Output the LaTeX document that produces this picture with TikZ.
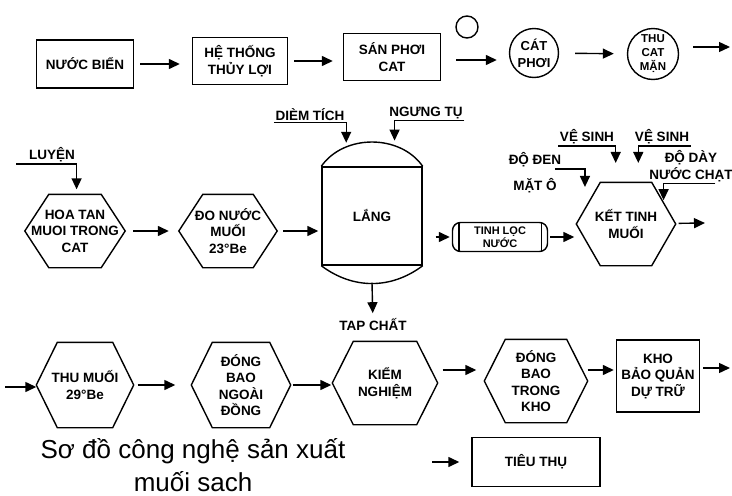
\documentclass[tikz,border=0pt]{standalone}
\usepackage{fontspec}
\setmainfont{Liberation Sans}
\usetikzlibrary{arrows.meta}

\tikzset{
  chu/.style={font=\fontsize{13.5}{16.5}\selectfont\bfseries, align=center},
  hopbox/.style={chu, draw, rectangle, inner sep=1pt},
  luc/.style={chu, rectangle, inner sep=0pt},
  tron/.style={chu, draw, circle, inner sep=0pt},
  ongloc/.style={chu, draw, rectangle, rounded corners=8pt, inner sep=0pt, font=\fontsize{11}{13}\selectfont\bfseries},
  ghichu/.style={chu, inner sep=1pt},
  flow/.style={-{Triangle[length=11pt,width=10pt]}, shorten <=6pt, shorten >=10pt},
  feed/.style={-{Triangle[length=11pt,width=10pt]}},
}
% hexagon outline around a named node
\newcommand\veluc[2]{%
  \draw (#1.west) -- ([xshift=#2]#1.north west) -- ([xshift=-#2]#1.north east)
    -- (#1.east) -- ([xshift=-#2]#1.south east) -- ([xshift=#2]#1.south west) -- cycle;}

\begin{document}
\begin{tikzpicture}[x=1pt,y=-1pt,line width=1.4pt]
\useasboundingbox (0,0) rectangle (732,496);

% hang 1
\node[hopbox, minimum width=97, minimum height=48] (bien) at (85,64) {NƯỚC BIỂN};
\node[hopbox, minimum width=95, minimum height=47] (heth) at (240,61) {HỆ THỐNG\\THỦY LỢI};
\node[hopbox, minimum width=97, minimum height=47] (san) at (392,57) {SÁN PHƠI\\CAT};
\node[tron, minimum size=22] (vong) at (467,27) {};
\node[tron, minimum size=49, font=\fontsize{13}{17}\selectfont\bfseries] (catphoi) at (534,53) {CÁT\\PHƠI};
\node[tron, minimum size=51, font=\fontsize{11.5}{14}\selectfont\bfseries] (thucat) at (653,54) {THU\\CAT\\MẶN};
\coordinate (ra1) at (730,47);

\draw[flow, shorten >=12pt] (bien) -- (bien -| heth.west);
\draw[flow] (heth) -- (heth -| san.west);
\draw[flow, shorten <=15pt, shorten >=12pt] ([yshift=-3pt]san.east) -- ([yshift=-3pt]san.east -| catphoi.west);
\draw[flow, shorten <=16pt, shorten >=13pt] (catphoi) -- (thucat);
\draw[flow, shorten <=14pt, shorten >=0pt] ([yshift=7pt]thucat.east) -- (ra1);

% hang 2
\node[ghichu] (luyen) at (52,155) {LUYỆN};
\node[luc, minimum width=99, minimum height=72] (hoatan) at (75,231) {HOA TAN\\MUOI TRONG\\CAT};
\node[luc, minimum width=97, minimum height=72] (donuoc) at (228,231) {ĐO NƯỚC\\MUỐI\\23°Be};
\node[hopbox, minimum width=100, minimum height=98] (lang) at (372,216) {LẮNG};
\node[ghichu] (diem) at (310,115) {DIÈM TÍCH};
\node[ghichu] (ngung) at (426,113) {NGƯNG TỤ};
\node[ghichu] (tap) at (373,325) {TAP CHẤT};
\node[ongloc, minimum width=95, minimum height=29] (tinh) at (500,237) {TINH LỌC\\NƯỚC};
\node[luc, minimum width=98, minimum height=82] (ket) at (626,224) {KẾT TINH\\MUỐI};
\node[ghichu] (vs1) at (587,137) {VỆ SINH};
\node[ghichu] (vs2) at (662,137) {VỆ SINH};
\node[ghichu] (doden) at (535,160) {ĐỘ ĐEN};
\node[ghichu] (mato) at (535,186) {MẶT Ô};
\node[ghichu] (doday) at (691,166) {ĐỘ DÀY\\NƯỚC CHẠT};
\coordinate (ra2) at (705,223);

\veluc{hoatan}{24pt}
\veluc{donuoc}{24pt}
\veluc{ket}{24pt}
\draw (lang.north west) to[bend left=55] (lang.north east);
\draw (lang.south west) to[bend right=37] (lang.south east);
\draw ([xshift=7pt]tinh.north west) -- ([xshift=7pt]tinh.south west);
\draw ([xshift=-7pt]tinh.north east) -- ([xshift=-7pt]tinh.south east);

\draw[feed, shorten >=5pt] ([xshift=-11pt]luyen.south west) -- (luyen.south east) -- (luyen.south east |- hoatan.north);
\draw[feed] (diem.south west) -- (diem.south east) -- ++(0,20);
\draw[feed] (ngung.south east) -- ([xshift=7pt]ngung.south west) -- ++(0,20);
\draw[feed, shorten >=4pt] ([yshift=-17pt]lang.south) -- (tap);
\draw[feed] (vs1.south west) -- (vs1.south east) -- ++(0,17);
\draw[feed] (vs2.south east) -- ([xshift=5pt]vs2.south west) -- ++(0,17);
\draw[feed] ([xshift=-8pt]doden.south east) -- ++(30,0) -- ++(0,18);
\draw[feed] ([xshift=-19pt]doday.south east) -- ([xshift=16pt]doday.south west) -- ++(0,17);

\draw[flow, shorten <=8pt] (hoatan) -- (hoatan -| donuoc.west);
\draw[flow, shorten >=3pt] (donuoc) -- (donuoc -| lang.west);
\draw[flow, shorten <=13pt, shorten >=2pt] ([yshift=-21pt]lang.east) -- ([yshift=-21pt]lang.east -| tinh.west);
\draw[flow, shorten <=2pt, shorten >=2pt] (tinh) -- (tinh -| ket.west);
\draw[flow, shorten <=3pt, shorten >=0pt] (ket) -- (ra2);

% hang 3
\coordinate (vao3) at (5,387);
\node[luc, minimum width=96, minimum height=84] (thumuoi) at (85,385) {THU MUỐI\\29°Be};
\node[luc, minimum width=98, minimum height=84] (dongngoai) at (241,385) {ĐÓNG\\BAO\\NGOÀI\\ĐỒNG};
\node[luc, minimum width=104, minimum height=82] (kiem) at (385,383) {KIỂM\\NGHIỆM};
\node[luc, minimum width=102, minimum height=82] (dongtrong) at (536,381) {ĐÓNG\\BAO\\TRONG\\KHO};
\node[hopbox, minimum width=83, minimum height=72] (kho) at (658,376) {KHO\\BẢO QUẢN\\DỰ TRỮ};
\coordinate (ra3) at (730,368);
\coordinate (vao4) at (432,462);
\node[hopbox, minimum width=128, minimum height=49] (tieuthu) at (536,462) {TIÊU THỤ};
\node[font=\fontsize{26}{33}\selectfont, align=center, inner sep=0pt] (tieude) at (193,465) {Sơ đồ công nghệ sản xuất\\muối sach};

\veluc{thumuoi}{21pt}
\veluc{dongngoai}{21pt}
\veluc{kiem}{21pt}
\veluc{dongtrong}{21pt}

\draw[flow, shorten <=0pt, shorten >=0pt] (vao3) -- (vao3 -| thumuoi.west);
\draw[flow, shorten <=4pt, shorten >=16pt] (thumuoi) -- (thumuoi -| dongngoai.west);
\draw[flow, shorten <=2pt, shorten >=1pt] (dongngoai) -- (dongngoai -| kiem.west);
\draw[flow, shorten <=5pt, shorten >=8pt] ([yshift=13pt]kiem.east) -- ([yshift=13pt]kiem.east -| dongtrong.west);
\draw[flow, shorten <=0pt, shorten >=2pt] ([yshift=11pt]dongtrong.east) -- ([yshift=11pt]dongtrong.east -| kho.west);
\draw[flow, shorten <=3pt, shorten >=0pt] (kho.east |- ra3) -- (ra3);
\draw[flow, shorten <=0pt, shorten >=12pt] (vao4) -- (vao4 -| tieuthu.west);
\end{tikzpicture}
\end{document}
